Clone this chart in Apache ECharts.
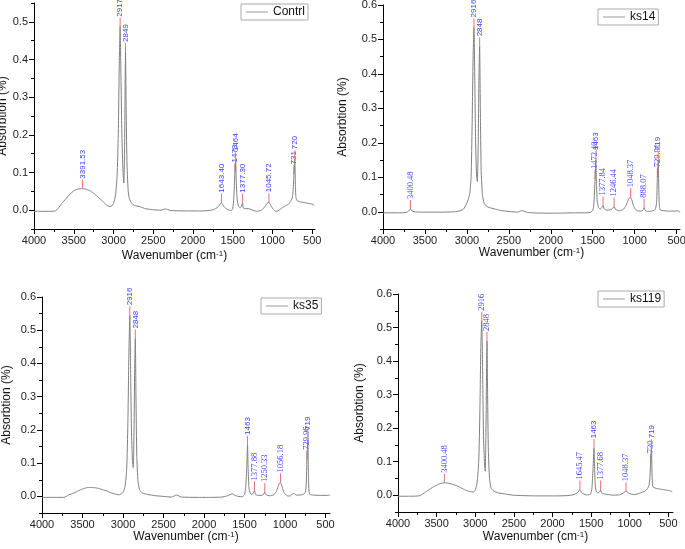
<!DOCTYPE html>
<html>
<head>
<meta charset="utf-8">
<script src="https://cdn.jsdelivr.net/npm/echarts@6/dist/echarts.min.js"></script>
<style>
  html, body { margin: 0; background: #fff; }
  #chart { width: 685px; height: 549px; }
</style>
</head>
<body>
<div id="chart"></div>
<script>
// tick values shared by the four panels
const xTicks = [4000, 3500, 3000, 2500, 2000, 1500, 1000, 500];
const xMinorTicks = [3750, 3250, 2750, 2250, 1750, 1250, 750];
const yTicks = [0, 0.1, 0.2, 0.3, 0.4, 0.5, 0.6];
const yMinorTicks = [-0.05, 0.05, 0.15, 0.25, 0.35, 0.45, 0.55];

// spectra, [wavenumber, absorbance]
const contrlSpec = [[4000,-0.003],[3900,-0.003],[3800,-0.003],[3730,-0.002],[3700,0.004],[3650,0.018],[3600,0.03],[3550,0.042],[3500,0.051],[3450,0.056],[3400,0.057],[3350,0.056],[3300,0.052],[3250,0.045],[3200,0.036],[3150,0.026],[3100,0.016],[3060,0.01],[3030,0.01],[3000,0.018],[2975,0.04],[2955,0.09],[2940,0.2],[2928,0.38],[2917,0.487],[2908,0.38],[2895,0.2],[2880,0.1],[2870,0.072],[2860,0.18],[2849,0.42],[2840,0.25],[2830,0.12],[2815,0.05],[2800,0.03],[2770,0.018],[2730,0.012],[2680,0.01],[2650,0.008],[2600,0.004],[2500,0.001],[2400,0.0],[2350,0.003],[2320,0.002],[2280,-0.001],[2100,-0.002],[1900,-0.002],[1800,-0.001],[1740,0.002],[1700,0.006],[1670,0.013],[1643,0.02],[1625,0.014],[1600,0.007],[1560,0.001],[1520,-0.001],[1500,0.005],[1488,0.03],[1473,0.10],[1464,0.13],[1455,0.07],[1445,0.03],[1430,0.012],[1410,0.006],[1395,0.008],[1377,0.02],[1368,0.006],[1340,0.004],[1300,0.004],[1260,0.001],[1200,-0.003],[1150,-0.001],[1100,0.008],[1070,0.018],[1045,0.021],[1020,0.012],[990,0.002],[960,-0.003],[930,-0.002],[900,0.003],[850,0.01],[800,0.016],[770,0.025],[750,0.035],[740,0.055],[731,0.095],[720,0.135],[712,0.06],[705,0.033],[690,0.025],[650,0.022],[600,0.02],[550,0.018],[500,0.016],[475,0.013],[468,0.014]];
const ks14Spec = [[4000,-0.003],[3800,-0.003],[3720,-0.002],[3695,0.002],[3680,0.007],[3670,0.008],[3655,0.003],[3630,0.0],[3550,-0.001],[3300,-0.001],[3150,0.0],[3080,0.003],[3040,0.008],[3010,0.02],[2985,0.035],[2965,0.055],[2950,0.1],[2938,0.25],[2926,0.45],[2916,0.535],[2907,0.4],[2896,0.2],[2884,0.1],[2875,0.088],[2865,0.2],[2856,0.4],[2848,0.48],[2840,0.3],[2830,0.12],[2815,0.05],[2795,0.025],[2760,0.015],[2700,0.01],[2650,0.007],[2600,0.004],[2500,0.001],[2400,-0.001],[2350,0.003],[2320,0.002],[2280,-0.002],[2100,-0.004],[1900,-0.004],[1700,-0.003],[1600,-0.003],[1530,-0.002],[1500,0.004],[1488,0.02],[1472,0.095],[1463,0.15],[1455,0.08],[1446,0.03],[1430,0.012],[1410,0.008],[1392,0.012],[1377,0.018],[1362,0.008],[1330,0.005],[1300,0.005],[1270,0.008],[1246,0.015],[1225,0.006],[1180,0.003],[1140,0.006],[1110,0.015],[1085,0.03],[1065,0.04],[1048,0.042],[1035,0.035],[1015,0.018],[995,0.008],[960,0.002],[920,0.002],[900,0.005],[888,0.012],[875,0.004],[850,0.001],[800,0.002],[770,0.004],[750,0.01],[738,0.03],[730,0.1],[719,0.15],[712,0.06],[705,0.015],[695,0.005],[650,0.003],[600,0.002],[520,0.002],[490,0.003],[470,0.001],[462,-0.002]];
const ks35Spec = [[4000,-0.003],[3850,-0.003],[3730,-0.003],[3700,0.0],[3670,0.005],[3640,0.007],[3600,0.011],[3550,0.017],[3500,0.022],[3450,0.026],[3400,0.027],[3350,0.026],[3300,0.024],[3250,0.02],[3200,0.016],[3150,0.011],[3100,0.007],[3060,0.005],[3030,0.006],[3000,0.012],[2975,0.03],[2955,0.08],[2940,0.22],[2928,0.42],[2916,0.545],[2907,0.4],[2896,0.2],[2884,0.11],[2874,0.087],[2864,0.2],[2856,0.38],[2848,0.475],[2840,0.3],[2830,0.12],[2815,0.045],[2795,0.02],[2760,0.01],[2700,0.006],[2600,0.002],[2500,0.0],[2400,-0.002],[2340,0.004],[2310,0.001],[2280,-0.002],[2100,-0.003],[1900,-0.003],[1780,-0.002],[1720,0.001],[1680,0.005],[1650,0.008],[1625,0.004],[1580,0.0],[1530,-0.001],[1500,0.005],[1485,0.03],[1472,0.09],[1463,0.155],[1455,0.08],[1445,0.025],[1430,0.01],[1410,0.006],[1392,0.01],[1377,0.018],[1363,0.006],[1330,0.003],[1290,0.003],[1265,0.006],[1250,0.013],[1235,0.005],[1190,0.002],[1140,0.005],[1110,0.014],[1085,0.03],[1068,0.04],[1056,0.042],[1040,0.032],[1020,0.016],[1000,0.007],[960,0.001],[930,0.002],[900,0.009],[885,0.008],[860,0.004],[820,0.004],[780,0.006],[750,0.012],[738,0.04],[730,0.11],[719,0.17],[711,0.06],[704,0.015],[695,0.006],[650,0.004],[560,0.003],[480,0.003],[460,0.004],[448,0.002]];
const ks119Spec = [[4000,-0.003],[3850,-0.003],[3730,-0.002],[3700,0.001],[3660,0.007],[3600,0.016],[3550,0.024],[3500,0.03],[3450,0.035],[3400,0.037],[3350,0.036],[3300,0.033],[3250,0.029],[3200,0.024],[3150,0.018],[3100,0.013],[3050,0.01],[3020,0.01],[2995,0.018],[2975,0.04],[2955,0.1],[2940,0.25],[2928,0.44],[2916,0.52],[2906,0.4],[2895,0.2],[2882,0.1],[2871,0.072],[2862,0.18],[2854,0.36],[2848,0.46],[2840,0.3],[2830,0.13],[2815,0.05],[2795,0.022],[2760,0.012],[2700,0.007],[2600,0.003],[2500,0.0],[2400,-0.001],[2200,-0.002],[1950,-0.002],[1800,-0.001],[1720,0.002],[1680,0.007],[1660,0.012],[1645,0.017],[1630,0.01],[1600,0.004],[1560,0.001],[1510,0.003],[1490,0.02],[1475,0.08],[1463,0.14],[1455,0.08],[1445,0.025],[1430,0.01],[1410,0.007],[1390,0.01],[1377,0.017],[1365,0.007],[1330,0.004],[1280,0.002],[1200,0.0],[1120,0.002],[1080,0.007],[1048,0.012],[1020,0.007],[980,0.003],[940,0.002],[900,0.004],[850,0.008],[800,0.013],[770,0.02],[750,0.03],[738,0.055],[730,0.095],[719,0.14],[711,0.06],[705,0.03],[695,0.024],[650,0.02],[600,0.018],[550,0.016],[500,0.014],[470,0.013],[450,0.01],[442,0.011]];

// peak labels: position, text, and font ("a" = sans, "s" = serif)
const contrlPeakX = [3391, 2917, 2849, 1643, 1473, 1464, 1377, 1045, 731, 720];
const contrlPeakY = [0.057, 0.487, 0.42, 0.02, 0.10, 0.13, 0.02, 0.021, 0.095, 0.135];
const contrlPeakText = ['3391.53', '2917', '2849', '1643.40', '1473', '1464', '1377.30', '1045.72', '731', '720'];
const contrlPeakFont = ['a', 'a', 'a', 'a', 'a', 'a', 'a', 'a', 'a', 'a'];

const ks14PeakX = [3673, 2916, 2848, 1472, 1463, 1377, 1246, 1048, 888, 730, 719];
const ks14PeakY = [0.008, 0.535, 0.48, 0.095, 0.15, 0.018, 0.015, 0.042, 0.012, 0.1, 0.15];
const ks14PeakText = ['3400.48', '2916', '2848', '1472.40', '1463', '1377.84', '1246.44', '1048.37', '888.07', '729.91', '719'];
const ks14PeakFont = ['s', 'a', 'a', 's', 'a', 's', 's', 's', 's', 's', 'a'];

const ks35PeakX = [2916, 2848, 1463, 1377, 1250, 1056, 730, 719];
const ks35PeakY = [0.545, 0.475, 0.155, 0.018, 0.013, 0.042, 0.11, 0.17];
const ks35PeakText = ['2916', '2848', '1463', '1377.88', '1250.33', '1056.18', '729.96', '719'];
const ks35PeakFont = ['a', 'a', 'a', 's', 's', 's', 's', 'a'];

const ks119PeakX = [3400, 2916, 2848, 1645, 1463, 1377, 1048, 730, 719];
const ks119PeakY = [0.037, 0.52, 0.46, 0.017, 0.14, 0.017, 0.012, 0.095, 0.14];
const ks119PeakText = ['3400.48', '2916', '2848', '1645.47', '1463', '1377.68', '1048.37', '730', '719'];
const ks119PeakFont = ['s', 's', 's', 's', 'a', 's', 's', 's', 'a'];

const panels = [
  { name: 'Contrl', spec: contrlSpec, px: contrlPeakX, py: contrlPeakY, pt: contrlPeakText, pf: contrlPeakFont,
    grid: { left: 34, top: 3, width: 281, height: 226 }, xMin: 466, yMax: 0.55,
    legend: { left: 241, top: 4 }, xGap: 21, yGap: 24 },
  { name: 'ks14', spec: ks14Spec, px: ks14PeakX, py: ks14PeakY, pt: ks14PeakText, pf: ks14PeakFont,
    grid: { left: 383, top: 5, width: 297, height: 224 }, xMin: 460, yMax: 0.6,
    legend: { left: 598, top: 9 }, xGap: 15, yGap: 34 },
  { name: 'ks35', spec: ks35Spec, px: ks35PeakX, py: ks35PeakY, pt: ks35PeakText, pf: ks35PeakFont,
    grid: { left: 42, top: 297, width: 288, height: 216 }, xMin: 445, yMax: 0.6,
    legend: { left: 261, top: 298 }, xGap: 18, yGap: 29 },
  { name: 'ks119', spec: ks119Spec, px: ks119PeakX, py: ks119PeakY, pt: ks119PeakText, pf: ks119PeakFont,
    grid: { left: 398, top: 294, width: 275, height: 218 }, xMin: 440, yMax: 0.6,
    legend: { left: 598, top: 291 }, xGap: 19, yGap: 32 },
];

const SANS = '"Liberation Sans", Arial, sans-serif';
const SERIF = '"Liberation Serif", "Times New Roman", serif';
const lineColor = '#808080';

const grids = [], xAxes = [], yAxes = [], series = [], legends = [];

panels.forEach((p, i) => {
  grids.push(Object.assign({ containLabel: false, outerBoundsMode: 'none' }, p.grid));
  const yMaj = yTicks.filter((v) => v <= p.yMax + 1e-9);
  const yMin = yMinorTicks.filter((v) => v <= p.yMax + 1e-9);
  // main x axis
  xAxes.push({
    type: 'value', gridIndex: i, position: 'bottom', inverse: true, min: p.xMin, max: 4000,
    name: 'Wavenumber (cm{sup|-1})', nameLocation: 'middle', nameGap: p.xGap,
    nameTextStyle: { fontFamily: SANS, fontSize: 12, color: '#111',
      rich: { sup: { fontFamily: SANS, fontSize: 8, verticalAlign: 'top', color: '#111' } } },
    axisLine: { show: true, onZero: false, lineStyle: { color: '#000', width: 1 } },
    axisTick: { show: true, inside: false, length: 5, customValues: xTicks, lineStyle: { color: '#000' } },
    axisLabel: { customValues: xTicks, fontFamily: SANS, fontSize: 11, color: '#222', margin: 6,
      formatter: (v) => String(v) },
    splitLine: { show: false },
  });
  // minor x ticks
  xAxes.push({
    type: 'value', gridIndex: i, position: 'bottom', inverse: true, min: p.xMin, max: 4000,
    axisLine: { show: false, onZero: false },
    axisTick: { show: true, length: 3, customValues: xMinorTicks, lineStyle: { color: '#000' } },
    axisLabel: { show: false }, splitLine: { show: false },
  });
  yAxes.push({
    type: 'value', gridIndex: i, position: 'left', min: -0.05, max: p.yMax,
    name: 'Absorbtion (%)', nameLocation: 'middle', nameGap: p.yGap,
    nameTextStyle: { fontFamily: SANS, fontSize: 12, color: '#111' },
    axisLine: { show: true, onZero: false, lineStyle: { color: '#000', width: 1 } },
    axisTick: { show: true, length: 5, customValues: yMaj, lineStyle: { color: '#000' } },
    axisLabel: { customValues: yMaj, fontFamily: SANS, fontSize: 11, color: '#222', margin: 6,
      formatter: (v) => v.toFixed(1) },
    splitLine: { show: false },
  });
  // minor y ticks
  yAxes.push({
    type: 'value', gridIndex: i, position: 'left', min: -0.05, max: p.yMax,
    axisLine: { show: false, onZero: false },
    axisTick: { show: true, length: 3, customValues: yMin, lineStyle: { color: '#000' } },
    axisLabel: { show: false }, splitLine: { show: false },
  });

  series.push({
    type: 'line', name: p.name, xAxisIndex: i * 2, yAxisIndex: i * 2,
    data: p.spec, symbol: 'none', smooth: 0.2, silent: true,
    lineStyle: { color: lineColor, width: 1 }, itemStyle: { color: lineColor },
  });

  series.push({
    type: 'custom', xAxisIndex: i * 2, yAxisIndex: i * 2, silent: true,
    data: p.px.map((x, k) => [x, p.py[k]]),
    renderItem(params, api) {
      const pt = api.coord([api.value(0), api.value(1)]);
      const k = params.dataIndex;
      const font = p.pf[k] === 's' ? '8.5px ' + SERIF : '8px ' + SANS;
      return {
        type: 'group',
        children: [
          { type: 'line', shape: { x1: pt[0], y1: pt[1], x2: pt[0], y2: pt[1] - 9 },
            style: { stroke: '#f07070', lineWidth: 1 } },
          { type: 'text', x: pt[0], y: pt[1] - 10, rotation: Math.PI / 2,
            style: { text: p.pt[k], fill: '#3c3cff', font: font, align: 'left', verticalAlign: 'middle' } },
        ],
      };
    },
  });

  legends.push({
    data: [{ name: p.name, icon: 'rect' }], left: p.legend.left, top: p.legend.top,
    orient: 'horizontal', borderColor: '#aaa', borderWidth: 1, borderRadius: 0,
    padding: [1, 3, 1, 5], itemWidth: 22, itemHeight: 1, itemGap: 0,
    itemStyle: { color: '#999' },
    textStyle: { fontFamily: SANS, fontSize: 12, color: '#111', lineHeight: 14 },
    selectedMode: false,
  });
});

const chart = echarts.init(document.getElementById('chart'), null, { renderer: 'canvas' });
chart.setOption({
  animation: false,
  backgroundColor: '#fff',
  grid: grids,
  xAxis: xAxes,
  yAxis: yAxes,
  legend: legends,
  series: series,
});
</script>
</body>
</html>
